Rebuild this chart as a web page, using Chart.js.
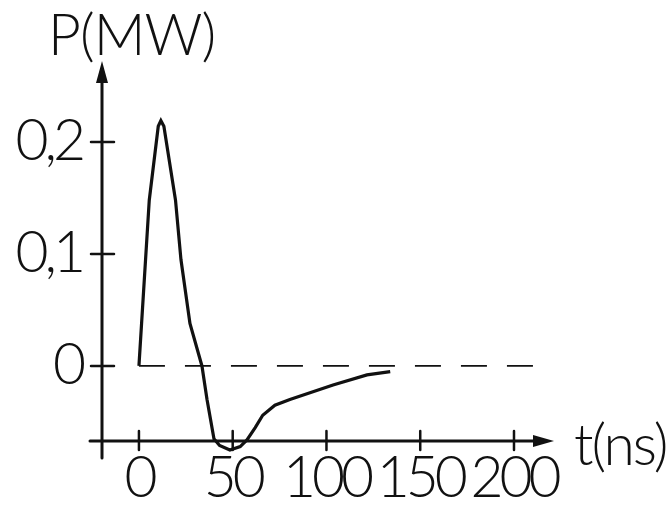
<!DOCTYPE html>
<html>
<head>
<meta charset="utf-8">
<script src="https://cdn.jsdelivr.net/npm/chart.js@4"></script>
<style>
  html, body { margin: 0; padding: 0; background: #fff; }
  #wrap { width: 672px; height: 513px; }
</style>
</head>
<body>
<div id="wrap"><canvas id="c"></canvas></div>
<script>
// values
var tValues = [0, 5.5, 10.3, 11.7, 13.3, 19.5, 22.4, 27.2, 33.6, 36.3, 40, 43, 48.5, 54, 57.6, 62, 66, 72.5, 80.5, 103.5, 121.6, 134];
var pValues = [0, 0.148, 0.214, 0.219, 0.214, 0.148, 0.095, 0.038, 0, -0.030, -0.065, -0.071, -0.075, -0.072, -0.066, -0.055, -0.044, -0.035, -0.030, -0.017, -0.008, -0.005];
var zeroLineT = [0, 220];
var zeroLineP = [0, 0];
var xTicks = [0, 50, 100, 150, 200];
var yTicks = [0, 0.1, 0.2];

var INK = '#111';
var labelFont = { family: 'Lato', size: 57, weight: 300 };

function toPoints(xs, ys) {
    var out = [];
    for (var i = 0; i < xs.length; i++) out.push({ x: xs[i], y: ys[i] });
    return out;
}

// axes with arrows, tick crosses and axis titles drawn by hand like the sketch
var sketchAxes = {
    id: 'sketchAxes',
    beforeDraw: function (chart) {
        // the hand lettering is narrower than Lato
        chart.ctx.letterSpacing = '-4px';
    },
    afterDraw: function (chart) {
        var ctx = chart.ctx;
        var xs = chart.scales.x, ys = chart.scales.y;
        var ax = xs.left, ay = ys.bottom;
        ctx.save();
        ctx.strokeStyle = INK;
        ctx.fillStyle = INK;
        ctx.lineWidth = 3;
        ctx.lineCap = 'round';

        // y axis
        ctx.beginPath();
        ctx.moveTo(ax, ay + 17);
        ctx.lineTo(ax, ys.top + 10);
        ctx.stroke();
        ctx.beginPath();
        ctx.moveTo(ax, ys.top - 2);
        ctx.lineTo(ax - 6, ys.top + 20);
        ctx.lineTo(ax + 6, ys.top + 20);
        ctx.closePath();
        ctx.fill();

        // x axis
        ctx.beginPath();
        ctx.moveTo(ax - 12, ay);
        ctx.lineTo(xs.right - 10, ay);
        ctx.stroke();
        ctx.beginPath();
        ctx.moveTo(xs.right + 1, ay);
        ctx.lineTo(xs.right - 20, ay - 6);
        ctx.lineTo(xs.right - 20, ay + 6);
        ctx.closePath();
        ctx.fill();

        // tick crosses
        ctx.lineWidth = 2.5;
        yTicks.forEach(function (v) {
            var py = ys.getPixelForValue(v);
            ctx.beginPath();
            ctx.moveTo(ax - 11, py);
            ctx.lineTo(ax + 12, py);
            ctx.stroke();
        });
        xTicks.forEach(function (v) {
            var px = xs.getPixelForValue(v);
            ctx.beginPath();
            ctx.moveTo(px, ay - 10);
            ctx.lineTo(px, ay + 9);
            ctx.stroke();
        });

        // axis titles
        ctx.font = '300 57px Lato';
        ctx.letterSpacing = '-1px';
        ctx.textBaseline = 'alphabetic';
        ctx.textAlign = 'left';
        ctx.fillText('P(MW)', 48, 55);
        ctx.letterSpacing = '-2px';
        ctx.fillText('t(ns)', 574, 465);
        ctx.restore();
        ctx.letterSpacing = '0px';
    }
};

new Chart(document.getElementById('c'), {
    type: 'line',
    data: {
        datasets: [{
            data: toPoints(tValues, pValues),
            borderColor: INK,
            borderWidth: 3.2,
            pointRadius: 0,
            tension: 0,
            clip: false
        }, {
            data: toPoints(zeroLineT, zeroLineP),
            borderColor: INK,
            borderWidth: 1.8,
            borderDash: [26, 20],
            pointRadius: 0,
            clip: false
        }]
    },
    options: {
        responsive: true,
        maintainAspectRatio: false,
        animation: false,
        layout: { padding: { left: 0, top: 63, right: 119, bottom: 0 } },
        plugins: { legend: { display: false }, tooltip: { enabled: false } },
        scales: {
            x: {
                type: 'linear',
                min: -19.7,
                max: 220.8,
                grid: { display: false, drawTicks: false },
                border: { display: false },
                afterFit: function (s) { s.height = 72; },
                afterBuildTicks: function (s) { s.ticks = xTicks.map(function (v) { return { value: v }; }); },
                ticks: { color: INK, font: labelFont, padding: 3, maxRotation: 0, autoSkip: false }
            },
            y: {
                min: -0.067,
                max: 0.2705,
                grid: { display: false, drawTicks: false },
                border: { display: false },
                afterFit: function (s) { s.width = 102; },
                afterBuildTicks: function (s) { s.ticks = yTicks.map(function (v) { return { value: v }; }); },
                ticks: {
                    color: INK, font: labelFont, padding: 20,
                    callback: function (v) { return v === 0 ? '0' : String(v).replace('.', ','); }
                }
            }
        }
    },
    plugins: [sketchAxes]
});
</script>
</body>
</html>
